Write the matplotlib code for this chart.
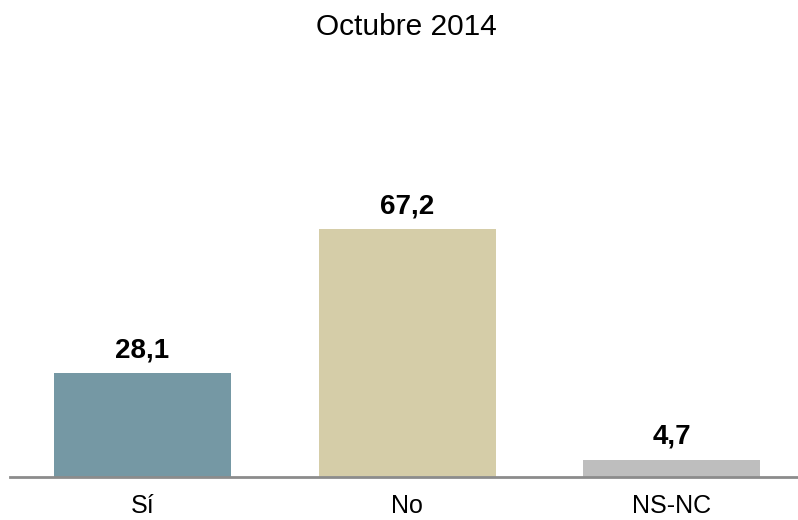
import matplotlib.pyplot as plt

plt.rcParams["font.family"] = ["Liberation Sans", "DejaVu Sans"]

# data
categories = ["Sí", "No", "NS-NC"]
values = [28.1, 67.2, 4.7]
labels = ["28,1", "67,2", "4,7"]
colors = ["#7598A4", "#D5CDA8", "#BEBEBE"]

W, H = 798, 520
fig = plt.figure(figsize=(W / 100, H / 100), dpi=100)

# axes placed in pixel terms: baseline at y=477, axis line from x=10 to x=798
ax = fig.add_axes([10 / W, 43 / H, 788 / W, 369 / H])

spacing = 264.5
x = list(range(len(categories)))
ax.bar(x, values, width=177 / spacing, color=colors, zorder=2)
ax.set_xlim(-132.5 / spacing, 2 + 126.5 / spacing)
ax.set_ylim(0, 100)

for xi, v, lab in zip(x, values, labels):
    ax.annotate(lab, (xi, v), xytext=(0, 16.5), textcoords="offset points",
                ha="center", va="center", fontsize=20, fontweight="bold")

for side in ["top", "right", "left"]:
    ax.spines[side].set_visible(False)
ax.spines["bottom"].set_color("#8C8C8C")
ax.spines["bottom"].set_linewidth(2)
ax.set_yticks([])
ax.set_xticks(x)
ax.set_xticklabels(categories, fontsize=18)
ax.tick_params(axis="x", length=0, pad=12)

fig.text(406 / W, 1 - 27 / H, "Octubre 2014", ha="center", va="center", fontsize=21.5)

fig.savefig("out.png", dpi=100)
